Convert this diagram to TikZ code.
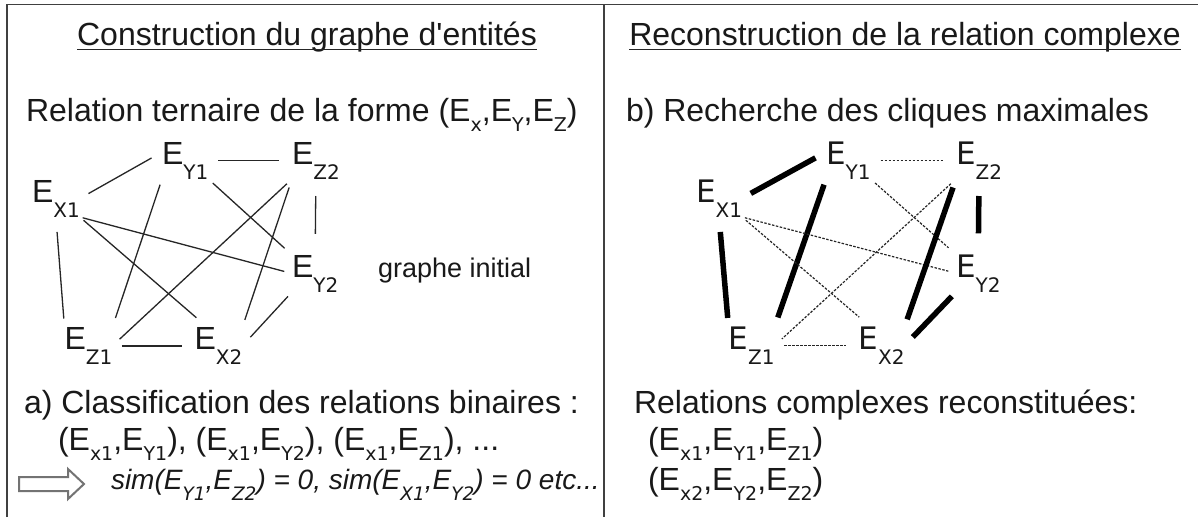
\documentclass[tikz,border=0pt]{standalone}
\usepackage{fontspec}
\setmainfont{Liberation Sans}
\newfontfamily\plainf{Liberation Sans}
\newfontfamily\dejavu{DejaVu Sans}
\newcommand\bodyf{\fontsize{32}{38}\selectfont}
\newcommand\simf{\fontsize{28}{34}\selectfont}
\newcommand\sbt[1]{\raisebox{-10pt}{\dejavu\fontsize{19}{19}\selectfont #1}}
\newcommand\sbi[1]{\raisebox{-11pt}{\dejavu\fontsize{18.5}{18.5}\selectfont\itshape #1}}
\newcommand\sbn[1]{\raisebox{-15pt}{\dejavu\fontsize{20}{20}\selectfont #1}}
\tikzset{
  frame/.style={draw=black!75, line width=1.8pt},
  txt/.style={anchor=base west, font=\bodyf, text=black!90},
  ttl/.style={anchor=base, font=\bodyf, text=black!90},
  uline/.style={draw=black!85, line width=1.4pt},
  ent/.style={anchor=base west, font=\bodyf, text=black!90},
  entr/.style={anchor=base west, font=\dejavu\fontsize{31}{36}\selectfont, text=black!90},
  lk/.style={draw=black!85, line width=1.3pt},
  thk/.style={draw=black, line width=5.5pt},
  dsh/.style={draw=black!85, line width=1.2pt, dash pattern=on 2.5pt off 1.5pt},
  hollow/.style={draw=black!55, line width=2pt, fill=white, line join=miter}
}
\begin{document}
\begin{tikzpicture}[x=1pt,y=-1pt, every node/.style={inner sep=0pt, outer sep=0pt}]
\useasboundingbox (0,0) rectangle (1198,517);
\fill[white] (0,0) rectangle (1198,517);
% frame
\draw[frame] (7,517) -- (7,4.5) -- (1198,4.5);
\draw[frame] (604,4.5) -- (604,517);
% titles
\node[ttl] (t1) at (307,45) {Construction du graphe d{\plainf'}entités};
\draw[uline] ([yshift=-4.5pt]t1.base west) -- ([yshift=-4.5pt]t1.base east);
\node[ttl] (t3) at (905,45) {Reconstruction de la relation complexe};
\draw[uline] ([yshift=-4.5pt]t3.base west) -- ([yshift=-4.5pt]t3.base east);
\node[txt] (t2) at (26,121) {Relation ternaire de la forme (E\sbt{x},E\sbt{Y},E\sbt{Z})};
\node[txt] (t4) at (626,121) {b) Recherche des cliques maximales};
% left graph
\node[ent] (lx1) at (32,202) {E\sbn{X1}};
\node[ent] (ly1) at (162,164) {E\sbn{Y1}};
\node[ent] (lz2) at (292,164) {E\sbn{Z2}};
\node[ent] (ly2) at (292,277) {E\sbn{Y2}};
\node[ent] (lz1) at (64.5,349.5) {E\sbn{Z1}};
\node[ent] (lx2) at (194.5,349.5) {E\sbn{X2}};
\node[anchor=base west, font=\fontsize{27}{32}\selectfont, text=black!90] (gi) at (378,277) {graphe initial};
\draw[lk, shorten <=10pt, shorten >=12pt] (lx1.east) -- (ly1.160);
\draw[lk, shorten <=10pt, shorten >=13pt] (ly1.east) -- (lz2.west);
\draw[lk, shorten <=15pt, shorten >=9pt] (lx1.south) -- (lz1.north west);
\draw[lk, shorten <=6pt, shorten >=10pt] (ly1.south west) -- (lz1.north east);
\draw[lk, shorten <=3pt, shorten >=8pt] (lx1.south east) -- (ly2.west);
\draw[lk, shorten <=5pt, shorten >=15pt] (lx1.south east) -- (lx2.120);
\draw[lk, shorten <=6pt, shorten >=10pt] (ly1.south east) -- (ly2.north west);
\draw[lk, shorten <=7pt, shorten >=10pt] (lz2.south west) -- (lz1.east);
\draw[lk, shorten <=9pt, shorten >=8pt] (lz2.south west) -- (lx2.north east);
\draw[lk, shorten <=17pt, shorten >=21pt] (lz2.south) -- (ly2.north);
\draw[lk, shorten <=9.5pt, shorten >=13pt] (lz1.east) -- (lx2.west);
\draw[lk, shorten <=6pt, shorten >=12pt] (ly2.south west) -- (lx2.east);
% right graph
\node[entr] (rx1) at (696,202) {E\sbn{X1}};
\node[entr] (ry1) at (826,164) {E\sbn{Y1}};
\node[entr] (rz2) at (956,164) {E\sbn{Z2}};
\node[entr] (ry2) at (956,277) {E\sbn{Y2}};
\node[entr] (rz1) at (728.5,349.5) {E\sbn{Z1}};
\node[entr] (rx2) at (858.5,349.5) {E\sbn{X2}};
\draw[thk, shorten <=10pt, shorten >=12pt] (rx1.east) -- (ry1.160);
\draw[dsh, shorten <=10pt, shorten >=13pt] (ry1.east) -- (rz2.west);
\draw[thk, shorten <=15pt, shorten >=9pt] (rx1.south) -- (rz1.north west);
\draw[thk, shorten <=6pt, shorten >=10pt] (ry1.south west) -- (rz1.north east);
\draw[dsh, shorten <=3pt, shorten >=8pt] (rx1.south east) -- (ry2.west);
\draw[dsh, shorten <=5pt, shorten >=15pt] (rx1.south east) -- (rx2.120);
\draw[dsh, shorten <=6pt, shorten >=10pt] (ry1.south east) -- (ry2.north west);
\draw[dsh, shorten <=7pt, shorten >=10pt] (rz2.south west) -- (rz1.east);
\draw[thk, shorten <=9pt, shorten >=8pt] (rz2.south west) -- (rx2.north east);
\draw[thk, shorten <=17pt, shorten >=21pt] (rz2.south) -- (ry2.north);
\draw[dsh, shorten <=9.5pt, shorten >=13pt] (rz1.east) -- (rx2.west);
\draw[thk, shorten <=6pt, shorten >=12pt] (ry2.south west) -- (rx2.east);
% bottom texts
\node[txt] (t5) at (24,413) {a) Classification des relations binaires :};
\node[txt] (t6) at (58,450) {(E\sbt{x1},E\sbt{Y1}), (E\sbt{x1},E\sbt{Y2}), (E\sbt{x1},E\sbt{Z1}), ...};
\draw[hollow] (19,477) -- (68,477) -- (68,469) -- (84,484) -- (68,499) -- (68,491) -- (19,491) -- cycle;
\node[anchor=base west, font=\simf\itshape, text=black!90] (sim) at (111,489) {sim(E\sbi{Y1},E\sbi{Z2}) = 0, sim(E\sbi{X1},E\sbi{Y2}) = 0 etc...};
\node[txt] (t7) at (634,413) {Relations complexes reconstituées:};
\node[txt] (t8) at (648,450) {(E\sbt{x1},E\sbt{Y1},E\sbt{Z1})};
\node[txt] (t9) at (648,490) {(E\sbt{x2},E\sbt{Y2},E\sbt{Z2})};
\end{tikzpicture}
\end{document}
